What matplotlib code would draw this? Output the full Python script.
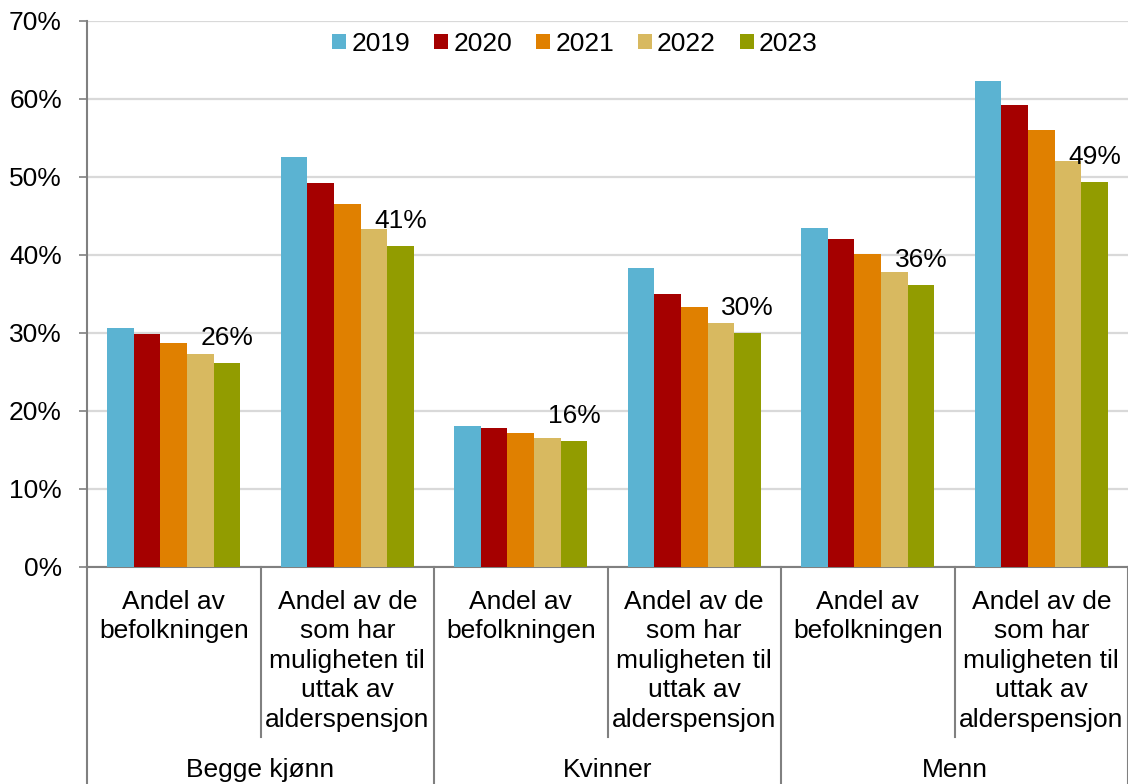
import matplotlib
matplotlib.use("Agg")
import matplotlib.pyplot as plt
import matplotlib.transforms as mtransforms
import numpy as np

plt.rcParams['font.family'] = ['Liberation Sans', 'DejaVu Sans']

years = ["2019", "2020", "2021", "2022", "2023"]
sub_labels = ["Andel av\nbefolkningen",
              "Andel av de\nsom har\nmuligheten til\nuttak av\nalderspensjon"] * 3
group_labels = ["Begge kjønn", "Kvinner", "Menn"]
v2019 = [30.7, 52.6, 18.1, 38.3, 43.4, 62.3]
v2020 = [29.9, 49.2, 17.8, 35.0, 42.0, 59.2]
v2021 = [28.7, 46.5, 17.2, 33.3, 40.1, 56.0]
v2022 = [27.3, 43.3, 16.6, 31.3, 37.8, 52.0]
v2023 = [26.2, 41.2, 16.2, 30.0, 36.2, 49.4]
label_texts = ["26%", "41%", "16%", "30%", "36%", "49%"]
colors = ["#5BB3D2", "#A50000", "#E08000", "#D8B960", "#929C00"]

series = [v2019, v2020, v2021, v2022, v2023]

FS = 19
W, H = 1128, 784
fig = plt.figure(figsize=(W / 100, H / 100), dpi=100)
ax = fig.add_axes([87 / W, 1 - 567 / H, (W - 87) / W, (567 - 21) / H])

x = np.arange(len(v2019))
bw = 0.1535
for i, (vals, c, yr) in enumerate(zip(series, colors, years)):
    ax.bar(x + (i - 2) * bw, vals, width=bw, color=c, label=yr,
           linewidth=0, zorder=3)
    if i == 4:
        for xi, v, t in zip(x, vals, label_texts):
            ax.annotate(t, (xi + (i - 2) * bw, v), xytext=(0, 18),
                        textcoords="offset points", ha="center", va="center",
                        fontsize=FS, color="black", zorder=4)

ax.set_xlim(-0.5, 5.5)
ax.set_ylim(0, 70)
ax.set_yticks(np.arange(0, 71, 10))
ax.set_yticklabels([f"{v}%" for v in range(0, 71, 10)])
ax.yaxis.grid(True, color="#D9D9D9", linewidth=1.6, zorder=0)
ax.set_axisbelow(True)
ax.tick_params(axis="y", direction="out", length=6, width=1.2, color="#808080",
               pad=12, labelsize=FS)
ax.set_xticks([])
for s in ["top", "right"]:
    ax.spines[s].set_visible(False)
ax.spines["left"].set_color("#808080")
ax.spines["left"].set_linewidth(1.5)
ax.spines["bottom"].set_color("#808080")
ax.spines["bottom"].set_linewidth(1.5)

trans = mtransforms.blended_transform_factory(ax.transData, fig.transFigure)

def fy(py):
    return 1 - py / H

# separators
for xb in [-0.5, 1.5, 3.5, 5.5]:
    ax.plot([xb, xb], [fy(567), fy(784)], transform=trans, color="#808080",
            lw=1.5, clip_on=False)
for xb in [0.5, 2.5, 4.5]:
    ax.plot([xb, xb], [fy(567), fy(737)], transform=trans, color="#808080",
            lw=1.5, clip_on=False)

for xi, lab in zip(x, sub_labels):
    ax.text(xi, fy(590), lab, transform=trans, ha="center", va="top",
            fontsize=FS, linespacing=1.285, multialignment="center")

for gi, g in enumerate(group_labels):
    ax.text(2 * gi + 0.5, fy(770), g, transform=trans, ha="center", va="center",
            fontsize=FS)

leg = ax.legend(loc="center", bbox_to_anchor=(575 / W, fy(44)),
                bbox_transform=fig.transFigure, ncol=5, frameon=False,
                fontsize=FS, handlelength=0.53, handleheight=0.53,
                handletextpad=0.2, columnspacing=0.9, borderaxespad=0)

fig.savefig("out.png", dpi=100, facecolor="white")
